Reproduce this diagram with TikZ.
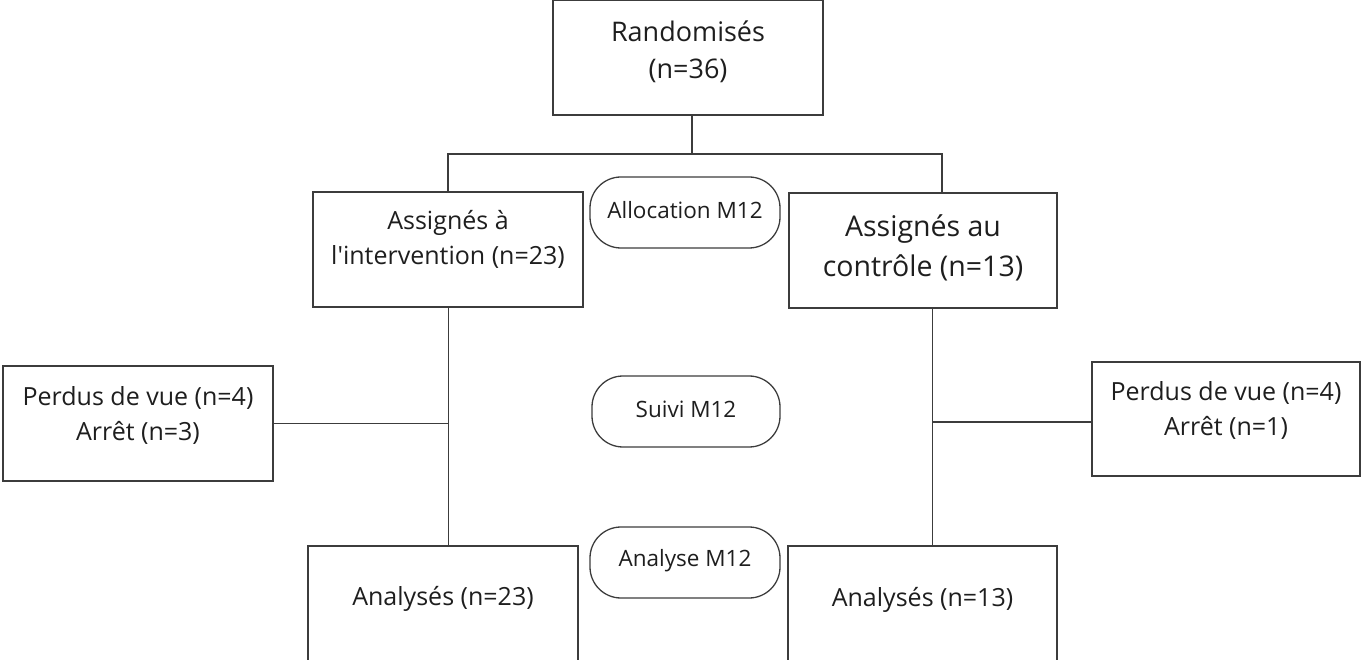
\documentclass[tikz,border=0pt]{standalone}
\usepackage{fontspec}
\setmainfont{Open Sans}[Ligatures=TeXOff]
\definecolor{lnc}{HTML}{3C3C3C}
\definecolor{txc}{HTML}{1E1E1E}
\begin{document}
\begin{tikzpicture}[x=1pt,y=-1pt,
  box/.style={draw=lnc, line width=1.3pt, rectangle, inner sep=0pt},
  rbox/.style={draw=lnc, line width=1.3pt, rectangle, rounded corners=31pt, inner sep=0pt},
  conn/.style={draw=lnc, line width=1.3pt},
  txt/.style={text=txc, align=center, inner sep=0pt},
  fA/.style={font=\fontsize{27}{37}\selectfont},
  fB/.style={font=\fontsize{25}{35}\selectfont},
  fC/.style={font=\fontsize{28.5}{40}\selectfont},
  fD/.style={font=\fontsize{22.5}{28}\selectfont}]
\useasboundingbox (0,0) rectangle (1361,660);
% boxes
\node[box, minimum width=270pt, minimum height=115pt,
  label={[txt,fA,yshift=6pt]center:Randomisés\\(n=36)}] (R) at (688,57.5) {};
\node[box, minimum width=270pt, minimum height=115pt,
  label={[txt,fB,yshift=10pt]center:Assignés à\\l'intervention (n=23)}] (L) at (448,249.5) {};
\node[box, minimum width=268pt, minimum height=115pt,
  label={[txt,fC,yshift=3pt]center:Assignés au\\contrôle (n=13)}] (C) at (923,250.5) {};
\node[rbox, minimum width=190pt, minimum height=71pt,
  label={[txt,fD,yshift=2pt]center:Allocation M12}] (AM) at (685,212.5) {};
\node[rbox, minimum width=188pt, minimum height=71pt,
  label={[txt,fD,yshift=2pt]center:Suivi M12}] (SM) at (686,411.5) {};
\node[rbox, minimum width=190pt, minimum height=71pt,
  label={[txt,fD,yshift=2pt]center:Analyse M12}] (NM) at (685,562.5) {};
\node[box, minimum width=270pt, minimum height=115pt,
  label={[txt,fB,yshift=8pt]center:Perdus de vue (n=4)\\Arrêt (n=3)}] (PL) at (138,423.5) {};
\node[box, minimum width=268pt, minimum height=114pt,
  label={[txt,fB,yshift=9pt]center:Perdus de vue (n=4)\\Arrêt (n=1)}] (PR) at (1226,419) {};
\node[box, minimum width=270pt, minimum height=115pt,
  label={[txt,fB,yshift=5pt]center:Analysés (n=23)}] (AL) at (443,603.5) {};
\node[box, minimum width=269pt, minimum height=115pt,
  label={[txt,fB,yshift=4pt]center:Analysés (n=13)}] (AR) at (922.5,603.5) {};
% junctions
\coordinate (J) at (692,154);
\coordinate (JL) at (448,154);
\coordinate (JR) at (942,154);
\coordinate (VL) at (448.5,0);
\coordinate (VR) at (932.5,0);
% connectors
\draw[conn] (R.south -| J) -- (J);
\draw[conn] (L.north -| JL) -- (JL) -- (JR) -- (C.north -| JR);
\draw[conn] (L.south -| VL) -- (AL.north -| VL);
\draw[conn] (C.south -| VR) -- (AR.north -| VR);
\draw[conn] (PL.east) -- (PL.east -| VL);
\draw[conn] (PR.west |- 0,422) -- (VR |- 0,422);
\end{tikzpicture}
\end{document}
